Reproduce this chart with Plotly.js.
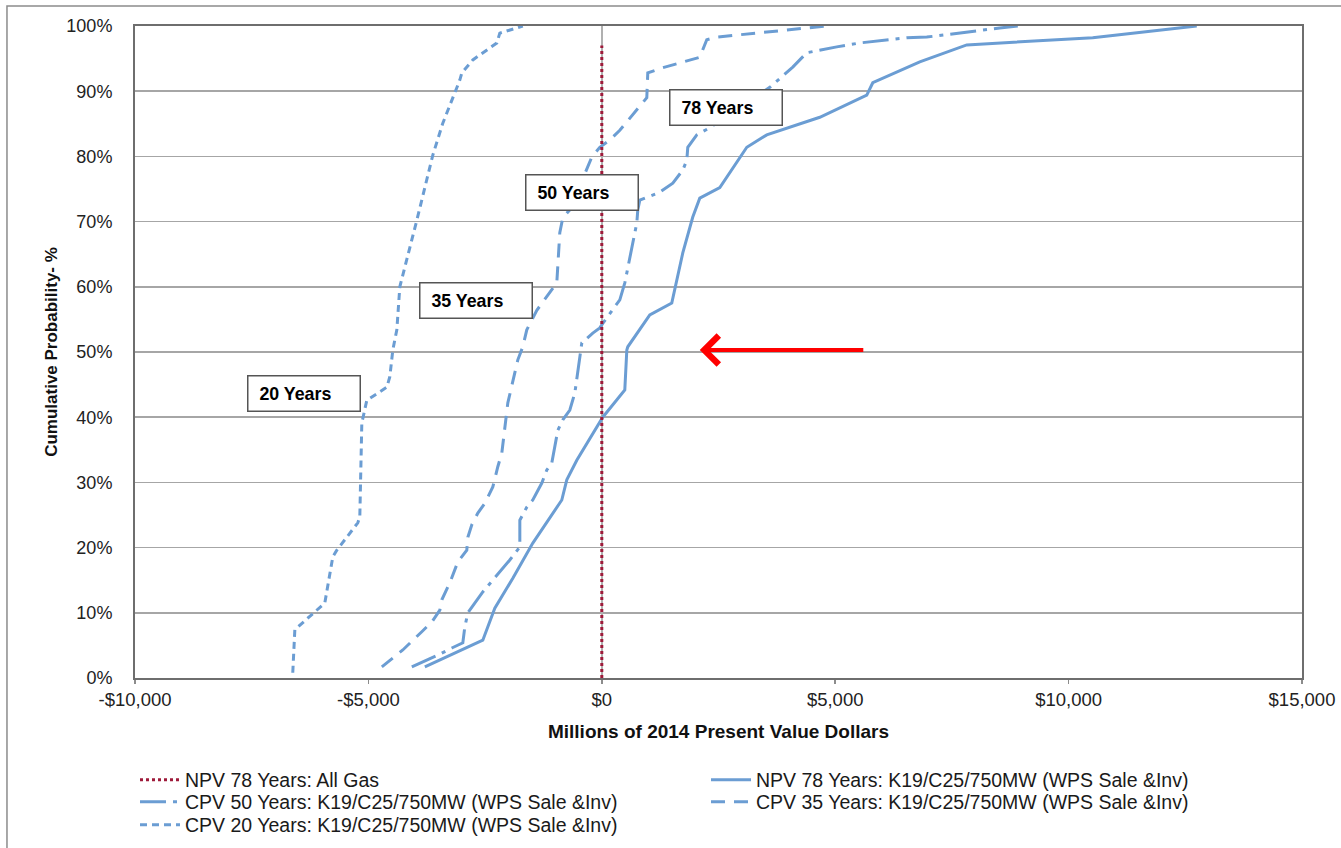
<!DOCTYPE html>
<html>
<head>
<meta charset="utf-8">
<script src="https://cdn.plot.ly/plotly-3.0.1.min.js"></script>
<style>
  html, body { margin: 0; padding: 0; background: #ffffff; }
  #chart { width: 1341px; height: 848px; }
</style>
</head>
<body>
<div id="chart"></div>
<script>
// ---- Data ----
// Millions of 2014 present value dollars vs cumulative probability (%)
const npv78X = [-3791,-2549,-2292,-1906,-1478,-1050,-857,-750,-536,21,493,536,557,1028,1499,1735,1949,2099,2528,3106,3534,4670,5676,5805,6812,7818,10517,12745];
const npv78Y = [1.7,5.8,10.7,15.3,20.7,25.3,27.3,30.4,33.4,40.0,44.2,50.3,50.8,55.7,57.5,65.2,70.7,73.6,75.2,81.4,83.3,86.0,89.4,91.3,94.5,97.1,98.2,100];

const cpv50X = [-4070,-3513,-3213,-2977,-2935,-2870,-2549,-2335,-1971,-1756,-1756,-1607,-1478,-1285,-1178,-1071,-1007,-942,-835,-685,-578,-514,-471,-428,-193,-43,21,386,493,750,771,814,1242,1521,1735,1821,1842,2035,2313,3599,4091,4391,5034,5526,6533,6962,8525,8911];
const cpv50Y = [1.7,3.5,4.6,5.4,7.8,10.0,13.2,15.0,18.1,20.1,24.2,26.2,27.3,29.9,31.9,33.0,35.4,38.0,39.6,41.1,43.7,47.2,49.8,51.4,52.9,53.7,54.4,58.0,60.6,69.8,71.8,73.3,74.5,75.9,77.9,79.4,81.4,83.3,84.4,90.6,93.7,95.9,96.8,97.4,98.2,98.3,99.7,100];

const cpv35X = [-4712,-4263,-3856,-3641,-3470,-3427,-3256,-3084,-2892,-2870,-2785,-2656,-2506,-2335,-2228,-2142,-2013,-1906,-1799,-1692,-1607,-1392,-964,-900,-835,-685,-321,-214,-43,171,386,964,985,1307,2099,2249,2463,3599,4820];
const cpv35Y = [1.7,4.3,7.1,8.6,10.4,12.0,14.6,17.8,19.6,21.6,23.5,25.3,26.8,29.3,32.4,34.5,42.2,45.7,48.8,50.8,53.4,56.4,60.6,68.3,70.6,71.8,77.9,79.9,81.4,82.5,84.0,89.0,92.8,93.6,95.2,97.9,98.3,99.1,100];

const cpv20X = [-6620,-6576,-5934,-5762,-5677,-5227,-5184,-5141,-5034,-4605,-4541,-4477,-4391,-4327,-3963,-3620,-3406,-3042,-2999,-2763,-2249,-2185,-1692];
const cpv20Y = [0.8,7.4,11.5,18.6,19.6,23.8,24.7,39.1,42.6,44.6,46.2,50.3,53.4,60.0,70.2,80.2,85.1,91.7,92.8,94.8,97.4,98.9,100];

const allGasX = [0, 0];
const allGasY = [0, 97];

const seriesNames = [
  'NPV 78 Years: All Gas',
  'NPV 78 Years: K19/C25/750MW (WPS Sale &Inv)',
  'CPV 50 Years: K19/C25/750MW (WPS Sale &Inv)',
  'CPV 35 Years: K19/C25/750MW (WPS Sale &Inv)',
  'CPV 20 Years: K19/C25/750MW (WPS Sale &Inv)'
];

const xTickVals = [-10000, -5000, 0, 5000, 10000, 15000];
const xTickText = ['-$10,000', '-$5,000', '$0', '$5,000', '$10,000', '$15,000'];

const labelText = ['20 Years', '35 Years', '50 Years', '78 Years'];
const labelX = [-6373, -2688, -428, 2656];
const labelY = [43.6, 57.9, 74.5, 87.5];

const arrowHead = {x: 2099, y: 50.3};
const arrowTail = {x: 5634, y: 50.3};

// ---- Styles ----
const blue = '#6b9dd3';
const FONT = 'Liberation Sans, Arial, sans-serif';
const LEGEND_FONT = {family: FONT, size: 19.5, color: '#1a1a1a'};

const traces = [
  {x: npv78X, y: npv78Y, name: seriesNames[1], legend: 'legend', legendrank: 2, mode: 'lines',
   line: {color: blue, width: 3}},
  {x: cpv50X, y: cpv50Y, name: seriesNames[2], legend: 'legend2', legendrank: 1, mode: 'lines',
   line: {color: blue, width: 3, dash: '26px,7px,4px,7px'}},
  {x: cpv35X, y: cpv35Y, name: seriesNames[3], legend: 'legend2', legendrank: 2, mode: 'lines',
   line: {color: blue, width: 3, dash: '14px,9px'}},
  {x: cpv20X, y: cpv20Y, name: seriesNames[4], legend: 'legend3', legendrank: 1, mode: 'lines',
   line: {color: blue, width: 3, dash: '7px,5px'}},
  {x: allGasX, y: allGasY, name: seriesNames[0], legend: 'legend', legendrank: 1, mode: 'lines',
   line: {color: '#9e1a3a', width: 3, dash: 'dot'}}
];

const annotations = labelText.map((t, i) => ({
  x: labelX[i], y: labelY[i], xref: 'x', yref: 'y',
  text: '&nbsp;<b>' + t + '</b>', showarrow: false,
  align: 'left', width: 99, height: 22,
  bgcolor: '#ffffff', bordercolor: '#555555', borderwidth: 1.5, borderpad: 6,
  font: {family: FONT, size: 17.8, color: '#000000'}
}));

annotations.push({
  x: arrowHead.x, y: arrowHead.y, xref: 'x', yref: 'y',
  ax: arrowTail.x, ay: arrowTail.y, axref: 'x', ayref: 'y',
  text: '', showarrow: true, arrowhead: 4, arrowsize: 1.4, arrowwidth: 4,
  arrowcolor: '#ff0000', standoff: 0
});

function legendRow(y) {
  return {
    orientation: 'h', x: 0, xanchor: 'left', y: y, yanchor: 'top',
    font: LEGEND_FONT, itemwidth: 40, entrywidth: 516, tracegroupgap: 0,
    bgcolor: 'rgba(0,0,0,0)', borderwidth: 0
  };
}

const layout = {
  width: 1341, height: 848,
  margin: {l: 135, r: 39, t: 26, b: 170, pad: 0, autoexpand: false},
  paper_bgcolor: '#ffffff', plot_bgcolor: '#ffffff',
  font: {family: FONT, size: 18, color: '#1a1a1a'},
  showlegend: true,
  xaxis: {
    range: [-10000, 15000], tickmode: 'array', tickvals: xTickVals, ticktext: xTickText,
    ticks: 'outside', ticklen: 4, tickwidth: 1.5, tickcolor: '#8c8c8c',
    showgrid: false, zeroline: true, zerolinecolor: '#b0b0b0', zerolinewidth: 1.5,
    showline: true, linecolor: '#6e6e6e', linewidth: 2, mirror: true, automargin: false,
    tickfont: {family: FONT, size: 18.5, color: '#222222'},
    title: {text: '<b>Millions of 2014 Present Value Dollars</b>',
            font: {family: FONT, size: 19, color: '#111111'}, standoff: 15}
  },
  yaxis: {
    range: [0, 100], dtick: 10, ticksuffix: '%', tick0: 0,
    ticks: '', showgrid: true, gridcolor: '#a6a6a6', gridwidth: 1.5,
    zeroline: false, showline: true, linecolor: '#6e6e6e', linewidth: 2, mirror: true,
    ticklabelstandoff: 17, automargin: false,
    tickfont: {family: FONT, size: 18, color: '#222222'},
    title: {text: '<b>Cumulative Probability- %</b>',
            font: {family: FONT, size: 17, color: '#111111'}, standoff: 4}
  },
  legend: legendRow(-0.1265),
  legend2: legendRow(-0.1603),
  legend3: legendRow(-0.1955),
  annotations: annotations,
  shapes: [{
    type: 'rect', xref: 'paper', yref: 'paper',
    x0: -0.1097, x1: 1.05, y0: -0.30, y1: 1.0307,
    line: {color: '#8c8c8c', width: 1.5}, fillcolor: 'rgba(0,0,0,0)', layer: 'below'
  }]
};

Plotly.newPlot('chart', traces, layout, {displayModeBar: false, staticPlot: true});
</script>
</body>
</html>
